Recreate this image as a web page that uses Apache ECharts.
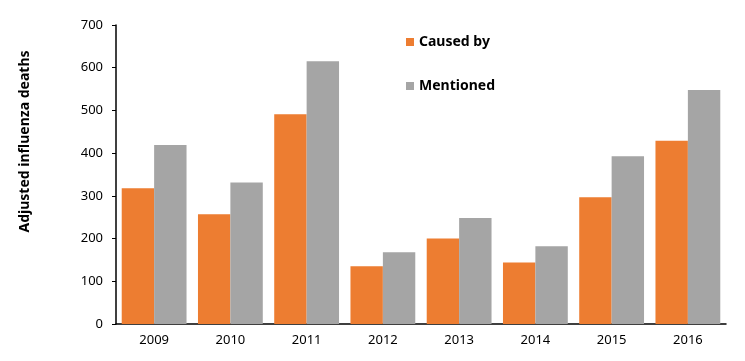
<!DOCTYPE html>
<html>
<head>
<meta charset="utf-8">
<script src="https://cdn.jsdelivr.net/npm/echarts@6/dist/echarts.min.js"></script>
<style>
  html, body { margin: 0; padding: 0; background: #fff; }
  #flu-chart { width: 745px; height: 361px; }
</style>
</head>
<body>
<div id="flu-chart"></div>
<script>
const years = ['2009', '2010', '2011', '2012', '2013', '2014', '2015', '2016'];
const causedBy = [318, 257, 491, 135, 200, 144, 297, 429];
const mentioned = [419, 331, 615, 168, 248, 182, 393, 548];
const seriesNames = ['Caused by', 'Mentioned'];
const seriesColors = ['#ED7D31', '#A5A5A5'];

const fluChart = echarts.init(document.getElementById('flu-chart'));
const fontFamily = '"Noto Sans", sans-serif';

function build_series(data, index) {
  return {
    name: seriesNames[index],
    type: 'bar',
    data: data,
    barGap: 0,
    barCategoryGap: '15%',
    itemStyle: { color: seriesColors[index] }
  };
}

const option = {
  animation: false,
  textStyle: { fontFamily: fontFamily },
  grid: { left: 116, right: 19, top: 25, bottom: 37 },
  legend: {
    orient: 'vertical',
    left: 401,
    top: 30,
    itemWidth: 8,
    itemHeight: 8,
    itemGap: 30,
    itemStyle: { borderWidth: 0 },
    icon: 'rect',
    data: seriesNames,
    textStyle: { fontSize: 14, fontWeight: 'bold', color: '#000', fontFamily: fontFamily }
  },
  xAxis: {
    type: 'category',
    data: years,
    axisTick: { show: false },
    axisLine: { lineStyle: { color: '#000', width: 1.5 } },
    axisLabel: { color: '#000', fontSize: 13, margin: 10 }
  },
  yAxis: {
    type: 'value',
    min: 0,
    max: 700,
    interval: 100,
    name: 'Adjusted influenza deaths',
    nameLocation: 'middle',
    nameGap: 84,
    nameTextStyle: {
      fontSize: 14,
      fontWeight: 'bold',
      color: '#000',
      padding: [0, 0, 0, 66]
    },
    splitLine: { show: false },
    axisLine: { show: true, lineStyle: { color: '#000', width: 1.5 } },
    axisTick: { show: true, length: 4, lineStyle: { color: '#000' } },
    axisLabel: { color: '#000', fontSize: 13, margin: 13 }
  },
  series: [causedBy, mentioned].map(build_series)
};

fluChart.setOption(option);
</script>
</body>
</html>
